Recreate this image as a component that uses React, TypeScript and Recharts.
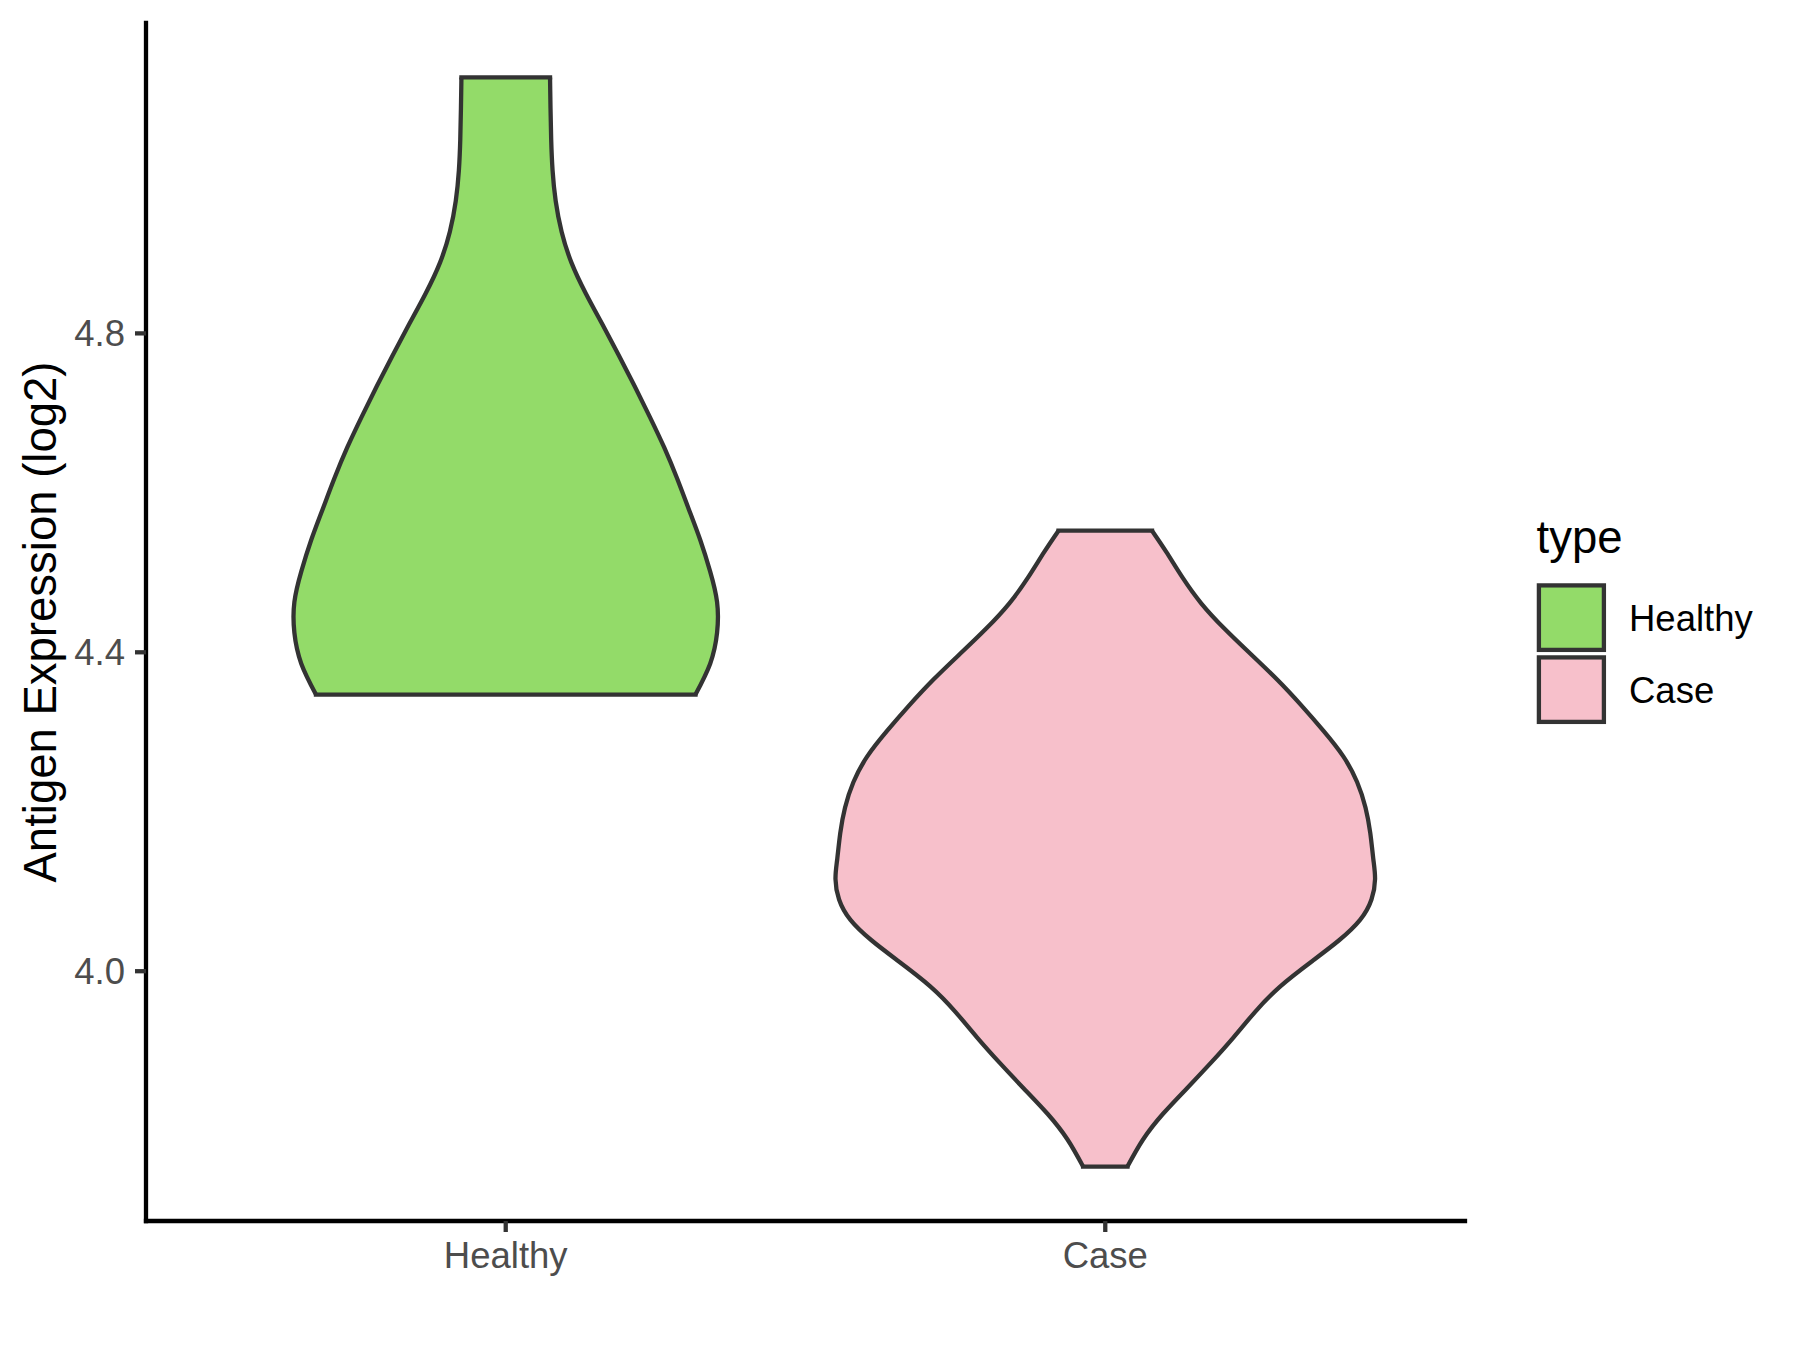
import React from 'react';
import { ComposedChart, Area, XAxis, YAxis, ReferenceLine, Legend } from 'recharts';

// ---- data ----
const categories = ['Healthy', 'Case'];
const categoryX = [1, 2];
const fillColors = ['#93DB69', '#F7C0CB'];
const outlineColor = '#333333';

// violin outlines: y value and half-width (in category units)
const healthyY = [5.121, 5.0823, 5.0436, 5.0049, 4.9662, 4.9275, 4.8888, 4.8501, 4.8114, 4.7727, 4.734, 4.6953, 4.6566, 4.6179, 4.5792, 4.5405, 4.5018, 4.4631, 4.4244, 4.3857, 4.347];
const healthyHalfWidth = [0.0739, 0.0747, 0.0758, 0.0781, 0.0833, 0.0932, 0.1096, 0.1336, 0.1612, 0.1885, 0.2149, 0.2403, 0.2645, 0.2859, 0.3055, 0.3246, 0.3408, 0.3525, 0.3525, 0.341, 0.3165];

const caseY = [4.5525, 4.5256, 4.4936, 4.4615, 4.4295, 4.3975, 4.3655, 4.3334, 4.3014, 4.2694, 4.2373, 4.2053, 4.1733, 4.1412, 4.1156, 4.09, 4.0644, 4.0388, 4.0132, 3.9811, 3.9491, 3.9171, 3.885, 3.853, 3.8209, 3.7889, 3.755];
const caseHalfWidth = [0.078, 0.102, 0.129, 0.16, 0.199, 0.243, 0.287, 0.327, 0.364, 0.397, 0.42, 0.434, 0.442, 0.447, 0.45, 0.444, 0.425, 0.39, 0.346, 0.292, 0.25, 0.214, 0.176, 0.136, 0.096, 0.063, 0.037];

const yTicks = [4.0, 4.4, 4.8];
const yDomain = [3.6867, 5.1893];
const xDomain = [0.4, 2.6];
const xTicks = [1, 2];
const yTitle = 'Antigen Expression (log2)';
const legendTitle = 'type';

const seriesKeys = ['healthy', 'case'];
const seriesY = [healthyY, caseY];
const seriesHalf = [healthyHalfWidth, caseHalfWidth];

const chartData: any[] = [];
seriesKeys.forEach((key, s) => {
  seriesY[s].forEach((y, i) => {
    const row: any = { y };
    seriesKeys.forEach((k, t) => {
      row[k] = t === s ? [categoryX[s] - seriesHalf[s][i], categoryX[s] + seriesHalf[s][i]] : [null, null];
    });
    chartData.push(row);
  });
});

const FONT = '"Liberation Sans", Arial, Helvetica, sans-serif';
const LW = 4.3;

const renderYTitle = (props: any) => {
  const vb = props.viewBox || { x: 0, y: 23, width: 146, height: 1198 };
  const cx = 39.5;
  const cy = vb.y + vb.height / 2;
  return (
    <text
      x={cx}
      y={cy}
      dy="0.355em"
      transform={`rotate(-90, ${cx}, ${cy})`}
      textAnchor="middle"
      fontSize={45.5}
      fontFamily={FONT}
      fill="#000000"
    >
      {yTitle}
    </text>
  );
};

const renderLegend = () => (
  <svg width={270} height={240} style={{ display: 'block', overflow: 'visible' }}>
    <text x={16.5} y={53} fontSize={45.5} fontFamily={FONT} fill="#000000">
      {legendTitle}
    </text>
    {categories.map((c, i) => (
      <g key={c}>
        <rect
          x={18.9}
          y={85.4 + i * 72}
          width={65}
          height={64.5}
          fill={fillColors[i]}
          stroke={outlineColor}
          strokeWidth={LW}
        />
        <text x={109} y={117.6 + i * 72} dy="0.355em" fontSize={36.5} fontFamily={FONT} fill="#000000">
          {c}
        </text>
      </g>
    ))}
  </svg>
);

export default function App() {
  return (
    <div style={{ position: 'absolute', left: 0, top: 0, width: 1800, height: 1350, background: '#ffffff' }}>
      <ComposedChart
        width={1800}
        height={1350}
        data={chartData}
        layout="vertical"
        margin={{ top: 23, right: 335, bottom: 0, left: 0 }}
      >
        <XAxis
          type="number"
          domain={xDomain}
          allowDataOverflow
          ticks={xTicks}
          interval={0}
          tickFormatter={(v: number) => categories[categoryX.indexOf(v)] ?? ''}
          height={129}
          tickSize={11}
          tickMargin={10}
          axisLine={{ stroke: '#000000', strokeWidth: LW, strokeLinecap: 'square' }}
          tickLine={{ stroke: outlineColor, strokeWidth: LW }}
          tick={{ fill: '#4D4D4D', fontSize: 36.5, fontFamily: FONT }}
        />
        <YAxis
          type="number"
          dataKey="y"
          domain={yDomain}
          allowDataOverflow
          reversed
          ticks={yTicks}
          interval={0}
          tickFormatter={(v: number) => v.toFixed(1)}
          width={146}
          tickSize={11}
          tickMargin={10}
          axisLine={{ stroke: '#000000', strokeWidth: LW, strokeLinecap: 'square' }}
          tickLine={{ stroke: outlineColor, strokeWidth: LW }}
          tick={{ fill: '#4D4D4D', fontSize: 36.5, fontFamily: FONT }}
          label={renderYTitle}
        />
        {seriesKeys.map((k, s) => (
          <Area
            key={k}
            dataKey={k}
            name={categories[s]}
            type="natural"
            fill={fillColors[s]}
            fillOpacity={1}
            stroke={outlineColor}
            strokeWidth={LW}
            strokeLinejoin="round"
            dot={false}
            activeDot={false}
            isAnimationActive={false}
          />
        ))}
        {seriesKeys.map((k, s) => {
          const ys = seriesY[s];
          const ws = seriesHalf[s];
          const last = ys.length - 1;
          return [0, last].map((i) => (
            <ReferenceLine
              key={`${k}-cap-${i}`}
              segment={[
                { x: categoryX[s] - ws[i], y: ys[i] },
                { x: categoryX[s] + ws[i], y: ys[i] },
              ]}
              stroke={outlineColor}
              strokeWidth={LW}
              strokeLinecap="square"
              ifOverflow="visible"
            />
          ));
        })}
        <Legend
          layout="vertical"
          align="center"
          verticalAlign="middle"
          content={renderLegend}
          wrapperStyle={{ left: 1520, top: 500, width: 270, height: 240 }}
        />
      </ComposedChart>
    </div>
  );
}
